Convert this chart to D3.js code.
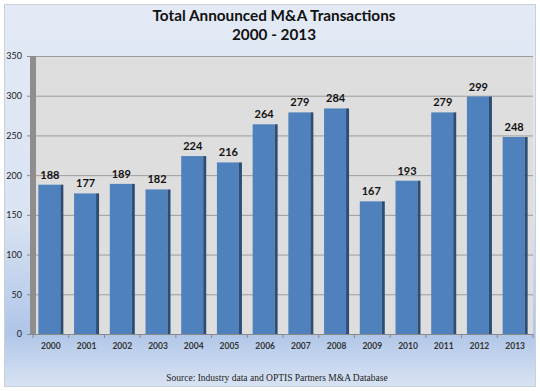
<!DOCTYPE html>
<html lang="en">
<head>
<meta charset="UTF-8">
<title>Total Announced M&amp;A Transactions</title>
<script src="https://cdn.jsdelivr.net/npm/d3@7"></script>
<style>
  body { margin: 0; background: #fff; }
</style>
</head>
<body>
<script>
    // data
    var years = ["2000", "2001", "2002", "2003", "2004", "2005", "2006",
                 "2007", "2008", "2009", "2010", "2011", "2012", "2013"];
    var deals = [188, 177, 189, 182, 224, 216, 264, 279, 284, 167, 193, 279, 299, 248];
    var yTicks = [0, 50, 100, 150, 200, 250, 300, 350];

    var width = 540, height = 391;
    // "top" is taken by window.top, so plot edges get their own names
    var plotTop = 56, plotBottom = 334, plotLeft = 36, plotRight = 533;
    var sans = "Lato, 'Open Sans', sans-serif";

    var svg = d3.select("body").append("svg")
        .attr("width", width)
        .attr("height", height)
        .style("font-family", sans);

    var defs = svg.append("defs");
    var bg = defs.append("linearGradient").attr("id", "bg")
        .attr("x1", 0).attr("y1", 0).attr("x2", 0).attr("y2", 1);
    bg.append("stop").attr("offset", "0%").attr("stop-color", "#e3eaf6");
    bg.append("stop").attr("offset", "55%").attr("stop-color", "#dbe4f3");
    bg.append("stop").attr("offset", "86%").attr("stop-color", "#b0c6e8");
    bg.append("stop").attr("offset", "100%").attr("stop-color", "#d8e3f3");

    // frame
    svg.append("rect")
        .attr("x", 4.5).attr("y", 4.5)
        .attr("width", 531).attr("height", 382)
        .attr("fill", "url(#bg)")
        .attr("stroke", "#c9d0da");

    // title
    svg.append("text")
        .attr("x", 274).attr("y", 21)
        .attr("text-anchor", "middle")
        .attr("font-size", 15.3).attr("font-weight", "bold")
        .attr("fill", "#111")
        .text("Total Announced M&A Transactions");
    svg.append("text")
        .attr("x", 274).attr("y", 40)
        .attr("text-anchor", "middle")
        .attr("font-size", 15.3).attr("font-weight", "bold")
        .attr("fill", "#111")
        .text("2000 - 2013");

    var x = d3.scaleBand()
        .domain(years)
        .range([33, 533])
        .paddingInner(0.3)
        .paddingOuter(0.15);

    var y = d3.scaleLinear()
        .domain([0, 350])
        .range([plotBottom, plotTop]);

    // plot background + side wall
    svg.append("rect")
        .attr("x", plotLeft).attr("y", plotTop)
        .attr("width", plotRight - plotLeft).attr("height", plotBottom - plotTop)
        .attr("fill", "#dedede");
    svg.append("rect")
        .attr("x", 30).attr("y", plotTop)
        .attr("width", plotLeft - 30).attr("height", plotBottom - plotTop)
        .attr("fill", "#8e8e8e");

    // gridlines
    svg.append("g").selectAll("line")
        .data(yTicks.filter(function (d) { return d > 0; }))
        .enter().append("line")
        .attr("x1", plotLeft).attr("x2", plotRight)
        .attr("y1", function (d) { return y(d) + 0.5; })
        .attr("y2", function (d) { return y(d) + 0.5; })
        .attr("stroke", "#9c9c9c")
        .attr("stroke-width", 1);

    // y axis
    var yAxis = svg.append("g")
        .attr("transform", "translate(30,0)")
        .call(d3.axisLeft(y).tickValues(yTicks).tickSize(3).tickPadding(5));
    yAxis.select(".domain").remove();
    yAxis.selectAll("line").attr("stroke", "#888");
    yAxis.selectAll("text")
        .attr("font-size", 9).attr("fill", "#222")
        .attr("font-family", sans);

    // bars
    var bars = svg.append("g").selectAll("g")
        .data(deals)
        .enter().append("g");
    bars.append("rect")
        .attr("x", function (d, i) { return x(years[i]); })
        .attr("y", function (d) { return y(d); })
        .attr("width", x.bandwidth() - 3)
        .attr("height", function (d) { return plotBottom - y(d); })
        .attr("fill", "#4f81bd");
    bars.append("rect")
        .attr("x", function (d, i) { return x(years[i]) + x.bandwidth() - 3; })
        .attr("y", function (d) { return y(d); })
        .attr("width", 3)
        .attr("height", function (d) { return plotBottom - y(d); })
        .attr("fill", "#2c4d76");
    bars.append("text")
        .attr("x", function (d, i) { return x(years[i]) + x.bandwidth() / 2 - 1; })
        .attr("y", function (d) { return y(d) - 6; })
        .attr("text-anchor", "middle")
        .attr("font-size", 11).attr("font-weight", "bold")
        .attr("fill", "#111")
        .text(function (d) { return d; });

    // x axis
    svg.append("line")
        .attr("x1", 30).attr("x2", plotRight)
        .attr("y1", plotBottom + 0.5).attr("y2", plotBottom + 0.5)
        .attr("stroke", "#888");
    svg.append("g").selectAll("line")
        .data(d3.range(years.length + 1))
        .enter().append("line")
        .attr("x1", function (i) { return 33 + i * x.step(); })
        .attr("x2", function (i) { return 33 + i * x.step(); })
        .attr("y1", plotBottom).attr("y2", plotBottom + 4)
        .attr("stroke", "#888");
    svg.append("g").selectAll("text")
        .data(years)
        .enter().append("text")
        .attr("x", function (d) { return x(d) + x.bandwidth() / 2; })
        .attr("y", 349)
        .attr("text-anchor", "middle")
        .attr("font-size", 8.5).attr("font-weight", "bold")
        .attr("fill", "#333")
        .text(function (d) { return d; });

    // source
    svg.append("text")
        .attr("x", 277).attr("y", 381)
        .attr("text-anchor", "middle")
        .attr("font-size", 9.5)
        .attr("font-family", "'Liberation Serif', 'DejaVu Serif', serif")
        .attr("fill", "#222")
        .text("Source:  Industry data and OPTIS Partners  M&A Database");
</script>
</body>
</html>
